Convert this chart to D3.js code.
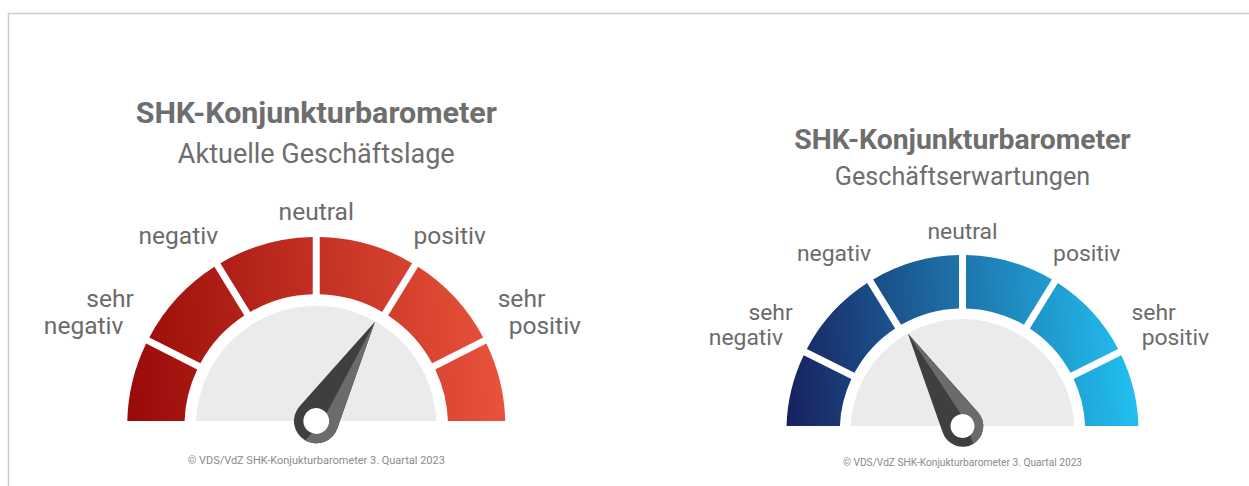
<!DOCTYPE html>
<html>
<head>
<meta charset="utf-8">
<script src="https://cdn.jsdelivr.net/npm/d3@7"></script>
<style>
  html, body { margin: 0; padding: 0; background: #fff; }
  svg { display: block; font-family: Roboto, "Noto Sans", sans-serif; }
</style>
</head>
<body>
<div id="barometer"></div>
<script>
// Kategorien der Skala (von links nach rechts)
const categories = ['sehr negativ', 'negativ', 'neutral', 'positiv', 'sehr positiv'];
const titles = ['SHK-Konjunkturbarometer', 'SHK-Konjunkturbarometer'];
const subtitles = ['Aktuelle Geschäftslage', 'Geschäftserwartungen'];
// Zeigerstellung: 0 = ganz links (sehr negativ), 100 = ganz rechts (sehr positiv)
const needleValues = [67, 33];
const sources = [
    '© VDS/VdZ SHK-Konjukturbarometer 3. Quartal 2023',
    '© VDS/VdZ SHK-Konjukturbarometer 3. Quartal 2023',
];
const segmentCount = 6;

// layout
const fullWidth = 1249;
const fullHeight = 486;
// cx/cy = needle pivot on the flat bottom edge, drop = arc centre below that edge
const gauges = [
    {cx: 316.25, cy: 421, r: 189, drop: 5, colors: ['#980a08', '#e9533b']},
    {cx: 962.5, cy: 426, r: 176, drop: 5, colors: ['#18205e', '#22c0f1']},
];
// label block centres, in units of the outer radius
const labelOffsets = [[-1.15, -0.56], [-0.73, -0.98], [0, -1.107], [0.706, -0.98], [1.18, -0.56]];

const angle = d3.scaleLinear()
    .domain([0, 100])
    .range([-Math.PI / 2, Math.PI / 2]);

const svg = d3.select('#barometer').append('svg')
    .attr('width', fullWidth)
    .attr('height', fullHeight);

svg.append('rect')
    .attr('width', fullWidth)
    .attr('height', fullHeight)
    .attr('fill', '#fff');

svg.append('path')
    .attr('d', `M8.5,${fullHeight} V13.5 H${fullWidth}`)
    .attr('fill', 'none')
    .attr('stroke', '#cccccc')
    .attr('stroke-width', 1.5);

const defs = svg.append('defs');

gauges.forEach((gauge, i) => {
    const R = gauge.r;
    const g = svg.append('g')
        .attr('class', `gauge gauge--${i}`)
        .attr('transform', `translate(${gauge.cx}, ${gauge.cy})`);

    const gradId = `ring-${i}`;
    const grad = defs.append('linearGradient')
        .attr('id', gradId)
        .attr('gradientUnits', 'userSpaceOnUse')
        .attr('x1', -R).attr('y1', 0)
        .attr('x2', R).attr('y2', -R * 0.15);
    grad.selectAll('stop').data(gauge.colors)
        .enter().append('stop')
            .attr('offset', (d, j) => j / (gauge.colors.length - 1))
            .attr('stop-color', d => d);

    const clipId = `cut-${i}`;
    defs.append('clipPath')
        .attr('id', clipId)
        .append('rect')
            .attr('x', -R - 20)
            .attr('y', -R - 20)
            .attr('width', 2 * R + 40)
            .attr('height', R + 20);

    const dial = g.append('g')
        .attr('clip-path', `url(#${clipId})`)
        .append('g')
            .attr('transform', `translate(0, ${gauge.drop})`);

    // ring segments
    const pad = 7 / R;
    const over = Math.asin(gauge.drop / (R * 0.6)) + pad;
    const segScale = d3.scaleLinear()
        .domain([0, segmentCount])
        .range([-Math.PI / 2 - over, Math.PI / 2 + over]);
    const segArc = d3.arc()
        .innerRadius(R * 0.697)
        .outerRadius(R)
        .padAngle(pad)
        .padRadius(R);

    dial.selectAll('.segment').data(d3.range(segmentCount))
        .enter().append('path')
            .attr('class', 'segment')
            .attr('d', d => segArc({startAngle: segScale(d), endAngle: segScale(d + 1)}))
            .attr('fill', `url(#${gradId})`);

    // inner half disc
    dial.append('path')
        .attr('d', d3.arc()({innerRadius: 0, outerRadius: R * 0.636,
            startAngle: angle(0) - over, endAngle: angle(100) + over}))
        .attr('fill', '#ebebeb');

    // labels
    const fs = R * 0.13;
    const label = g.selectAll('.label').data(categories)
        .enter().append('text')
            .attr('class', 'label')
            .attr('fill', '#6b6b6b')
            .attr('font-size', fs);
    label.each(function(d, j) {
        const [ox, oy] = labelOffsets[j];
        const x = ox * R;
        const y = oy * R;
        const words = d.split(' ');
        const t = d3.select(this);
        if (words.length === 1) {
            t.attr('text-anchor', 'middle')
                .attr('x', x)
                .attr('y', y + fs * 0.33)
                .text(d);
        } else if (ox < 0) {
            t.attr('text-anchor', 'end');
            words.forEach((w, k) => t.append('tspan')
                .attr('x', x + R * 0.185 - (k === 0 ? 0 : R * 0.055))
                .attr('y', y + fs * (k === 0 ? -0.33 : 0.75))
                .text(w));
        } else {
            t.attr('text-anchor', 'start');
            words.forEach((w, k) => t.append('tspan')
                .attr('x', x - R * 0.22 + (k === 0 ? 0 : R * 0.058))
                .attr('y', y + fs * (k === 0 ? -0.33 : 0.75))
                .text(w));
        }
    });

    // titles
    g.append('text')
        .attr('text-anchor', 'middle')
        .attr('y', -R * 1.575)
        .attr('font-size', R * 0.161)
        .attr('font-weight', 'bold')
        .attr('fill', '#6e6e6e')
        .text(titles[i]);

    g.append('text')
        .attr('text-anchor', 'middle')
        .attr('y', -R * 1.367)
        .attr('font-size', R * 0.143)
        .attr('fill', '#6e6e6e')
        .text(subtitles[i]);

    // source
    g.append('text')
        .attr('text-anchor', 'middle')
        .attr('y', R * 0.228)
        .attr('font-size', R * 0.058)
        .attr('fill', '#8a8a8a')
        .text(sources[i]);

    // needle
    const h = R * 0.118;
    const L = R * 0.61;
    const a = Math.acos(h / L);
    const px = h * Math.sin(a);
    const py = -h * Math.cos(a);
    const needle = g.append('g')
        .attr('class', 'needle')
        .attr('transform', `rotate(${angle(needleValues[i]) * 180 / Math.PI})`);

    needle.append('path')
        .attr('d', `M0,${-L} L${px},${py} A${h},${h} 0 1 1 ${-px},${py} Z`)
        .attr('fill', '#3f3f3f');

    needle.append('path')
        .attr('d', `M0,${-L} L${px},${py} A${h},${h} 0 0 1 0,${h} L${h * 0.25},0 Z`)
        .attr('fill', '#6b6b6b');

    needle.append('circle')
        .attr('r', R * 0.068)
        .attr('fill', '#fff');
});
</script>
</body>
</html>
